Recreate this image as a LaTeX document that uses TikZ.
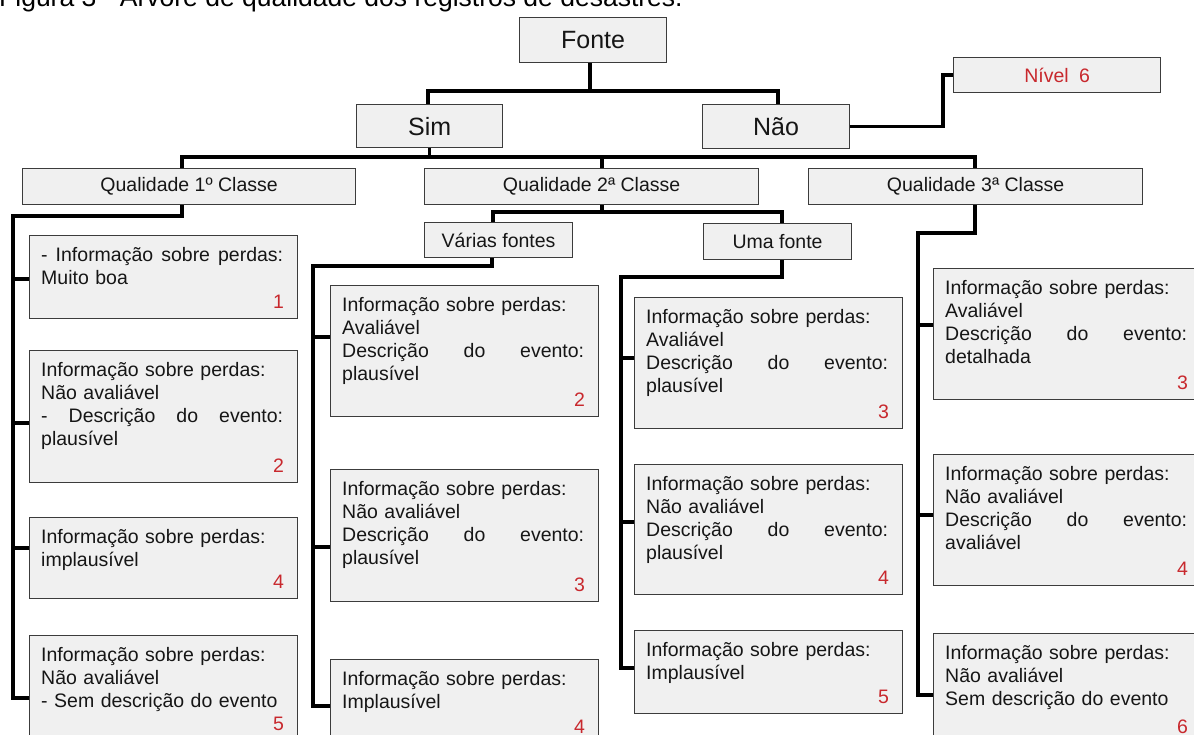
\documentclass[tikz,border=0pt]{standalone}
\usepackage{fontspec}
\setmainfont{Liberation Sans}
\usetikzlibrary{backgrounds}
\definecolor{boxfill}{RGB}{240,240,240}
\definecolor{boxline}{RGB}{60,60,60}
\definecolor{txt}{RGB}{22,22,22}
\definecolor{numred}{RGB}{200,40,45}
\tikzset{
  conn/.style={draw=black, line width=3.3pt},
  tbx/.style={draw=boxline, fill=boxfill, line width=1.2pt, inner sep=0pt, anchor=north west, text=txt},
  ibx/.style={tbx, minimum width=268pt},
  itx/.style={anchor=north west, inner sep=0pt, text width=242pt, align=left, text=txt, font=\fontsize{19.5}{23}\selectfont},
  inum/.style={anchor=base east, inner sep=0pt, text=numred, font=\fontsize{19.5}{23}\selectfont},
  bigtxt/.style={font=\fontsize{25}{30}\selectfont},
  midtxt/.style={font=\fontsize{19.5}{23}\selectfont},
}
% #1 name, #2 x, #3 y top, #4 height, #5 tick offset, #6 text, #7 number
\newcommand{\ibox}[7]{%
  \node[ibx, minimum height=#4pt] (#1) at (#2,#3) {};
  \node[itx] (#1t) at ([xshift=12pt,yshift=-12pt]#1.north west) {#6};
  \node[inum] (#1n) at ([xshift=-14pt,yshift=11pt]#1.south east) {#7};
  \coordinate (k#1) at ([yshift=-#5pt]#1.north west);
}
% a line whose word spaces are stretched to the full text width
\newcommand{\st}[1]{\leavevmode\hbox to 242pt{\spaceskip=0.28em plus 1fil\relax #1}}
\begin{document}
\begin{tikzpicture}[x=1pt,y=-1pt]
\useasboundingbox (0,0) rectangle (1194,735);
\clip (0,0) rectangle (1194,735);

% title (cut at top)
\node[anchor=base west, inner sep=0pt, font=\fontsize{26.5}{30}\selectfont] (title) at (-1,7) {Figura 3 - Árvore de qualidade dos registros de desastres.};

% upper levels
\node[tbx, bigtxt, minimum width=147pt, minimum height=45pt] (fonte) at (519,17) {Fonte};
\node[tbx, bigtxt, minimum width=146pt, minimum height=43pt] (sim) at (356,104) {Sim};
\node[tbx, bigtxt, minimum width=147pt, minimum height=44pt] (nao) at (702,104) {Não};
\node[tbx, midtxt, text=numred, minimum width=207pt, minimum height=35pt] (nivel) at (953,57) {Nível\hspace{5pt} 6};
\node[tbx, midtxt, minimum width=333pt, minimum height=36pt] (q1) at (22,168) {Qualidade 1º Classe};
\node[tbx, midtxt, minimum width=334pt, minimum height=36pt] (q2) at (424,168) {Qualidade 2ª Classe};
\node[tbx, midtxt, minimum width=334pt, minimum height=36pt] (q3) at (808,168) {Qualidade 3ª Classe};
\node[tbx, midtxt, minimum width=148pt, minimum height=35pt] (varias) at (424,222) {Várias fontes};
\node[tbx, midtxt, minimum width=148pt, minimum height=36pt] (uma) at (703,223) {Uma fonte};

% column A
\ibox{A1}{29}{235}{83}{44}{\st{- Informação sobre perdas:}\\Muito boa}{1}
\ibox{A2}{29}{350}{132}{73}{Informação sobre perdas:\\Não avaliável\\\st{- Descrição do evento:}\\plausível}{2}
\ibox{A3}{29}{517}{81}{31}{Informação sobre perdas:\\implausível}{4}
\ibox{A4}{29}{635}{105}{63}{Informação sobre perdas:\\Não avaliável\\- Sem descrição do evento}{5}
% column B
\ibox{B1}{330}{285}{131}{52}{Informação sobre perdas:\\Avaliável\\\st{Descrição do evento:}\\plausível}{2}
\ibox{B2}{330}{469}{132}{78}{Informação sobre perdas:\\Não avaliável\\\st{Descrição do evento:}\\plausível}{3}
\ibox{B3}{330}{659}{84}{47}{Informação sobre perdas:\\Implausível}{4}
% column C
\ibox{C1}{634}{297}{131}{61}{Informação sobre perdas:\\Avaliável\\\st{Descrição do evento:}\\plausível}{3}
\ibox{C2}{634}{464}{130}{58}{Informação sobre perdas:\\Não avaliável\\\st{Descrição do evento:}\\plausível}{4}
\ibox{C3}{634}{630}{83}{38}{Informação sobre perdas:\\Implausível}{5}
% column D
\ibox{D1}{933}{268}{131}{57}{Informação sobre perdas:\\Avaliável\\\st{Descrição do evento:}\\detalhada}{3}
\ibox{D2}{933}{454}{131}{61}{Informação sobre perdas:\\Não avaliável\\\st{Descrição do evento:}\\avaliável}{4}
\ibox{D3}{933}{633}{110}{62}{Informação sobre perdas:\\Não avaliável\\Sem descrição do evento}{6}

\begin{pgfonlayer}{background}
% Fonte -> Sim / Nao
\coordinate (f0) at (590,91);
\coordinate (fs) at (428,91);
\coordinate (fn) at (778,91);
\draw[conn] (f0 |- fonte.south) -- (f0);
\draw[conn] (fs |- sim.north) -- (fs) -- (fn) -- (fn |- nao.north);
% Nao -> Nivel 6
\coordinate (n1) at (943,125);
\draw[conn] (nao.east) -- (n1 |- nao.east) |- (nivel.west);
% Sim -> Qualidades
\coordinate (s1) at (182,157);
\coordinate (s2) at (602,157);
\coordinate (s3) at (975,157);
\draw[conn] (sim.south) -- (sim.south |- s1);
\draw[conn] (s1 |- q1.north) -- (s1) -- (s3) -- (s3 |- q3.north);
\draw[conn] (s2) -- (s2 |- q2.north);
% Q1 -> A
\coordinate (a0) at (182,216);
\coordinate (at) at (13,216);
\draw[conn] (a0 |- q1.south) -- (a0) -- (at) |- (kA4);
\foreach \b in {A1,A2,A3} \draw[conn] (at |- k\b) -- (k\b);
% Q2 -> Varias / Uma
\coordinate (q2a) at (602,212);
\coordinate (v0) at (493,212);
\coordinate (u0) at (782,212);
\draw[conn] (q2a |- q2.south) -- (q2a);
\draw[conn] (v0 |- varias.north) -- (v0) -- (u0) -- (u0 |- uma.north);
% Varias -> B
\coordinate (b0) at (492,266);
\coordinate (bt) at (313,266);
\draw[conn] (b0 |- varias.south) -- (b0) -- (bt) |- (kB3);
\foreach \b in {B1,B2} \draw[conn] (bt |- k\b) -- (k\b);
% Uma -> C
\coordinate (c0) at (782,277);
\coordinate (ct) at (621,277);
\draw[conn] (c0 |- uma.south) -- (c0) -- (ct) |- (kC3);
\foreach \b in {C1,C2} \draw[conn] (ct |- k\b) -- (k\b);
% Q3 -> D
\coordinate (d0) at (975,233);
\coordinate (dt) at (918,233);
\draw[conn] (d0 |- q3.south) -- (d0) -- (dt) |- (kD3);
\foreach \b in {D1,D2} \draw[conn] (dt |- k\b) -- (k\b);
\end{pgfonlayer}
\end{tikzpicture}
\end{document}
